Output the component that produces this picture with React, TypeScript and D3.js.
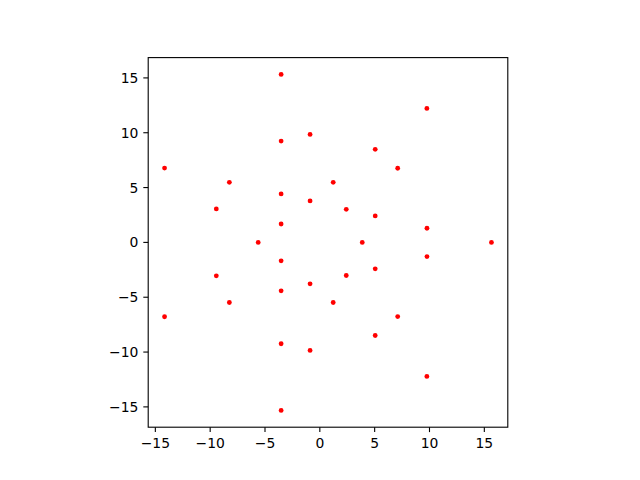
import React from "react";
import * as d3 from "d3";

const xs = [-3.53, -3.53, -3.53, -3.53, -0.89, -0.89, -14.16, -8.25, -9.44, -5.62, 9.76, 5.05, 7.1, 1.22, 2.41, 5.05, 9.77, 3.87, 15.65,
  -3.53, -3.53, -3.53, -3.53, -0.89, -0.89, -14.16, -8.25, -9.44, 9.76, 5.05, 7.1, 1.22, 2.41, 5.05, 9.77];
const ys = [15.32, 9.24, 4.42, 1.68, 9.85, 3.78, 6.78, 5.48, 3.05, 0, 12.22, 8.49, 6.76, 5.48, 3.02, 2.41, 1.29, 0, 0,
  -15.32, -9.24, -4.42, -1.68, -9.85, -3.78, -6.78, -5.48, -3.05, -12.22, -8.49, -6.76, -5.48, -3.02, -2.41, -1.29];
const xTicks = [-15, -10, -5, 0, 5, 10, 15];
const yTicks = [-15, -10, -5, 0, 5, 10, 15];

export default function App() {
  const W = 640, H = 480;
  const xMin = d3.min(xs)!, xMax = d3.max(xs)!;
  const yMin = d3.min(ys)!, yMax = d3.max(ys)!;
  const xPad = (xMax - xMin) * 0.05, yPad = (yMax - yMin) * 0.05;
  const xDom: [number, number] = [xMin - xPad, xMax + xPad];
  const yDom: [number, number] = [yMin - yPad, yMax + yPad];
  const top = 57.6, bottom = 427.2;
  const ph = bottom - top;
  const k = ph / (yDom[1] - yDom[0]);
  const pw = k * (xDom[1] - xDom[0]);
  const cx = 80 + 496 / 2;
  const left = cx - pw / 2, right = cx + pw / 2;
  const x = d3.scaleLinear().domain(xDom).range([left, right]);
  const y = d3.scaleLinear().domain(yDom).range([bottom, top]);
  const fmt = (v: number) => (v < 0 ? "\u2212" + Math.abs(v) : String(v));
  const fs = 13.9;
  return (
    <svg width={W} height={H} style={{ position: "absolute", left: 0, top: 0 }} fontFamily="DejaVu Sans">
      <rect x={0} y={0} width={W} height={H} fill="white" />
      {xs.map((v, i) => (
        <circle key={i} cx={x(v)} cy={y(ys[i])} r={2.4} fill="red" />
      ))}
      <rect x={left} y={top} width={pw} height={ph} fill="none" stroke="black" strokeWidth={1.1} />
      {xTicks.map((t) => (
        <g key={"x" + t}>
          <line x1={x(t)} x2={x(t)} y1={bottom} y2={bottom + 4.9} stroke="black" strokeWidth={1.1} />
          <text x={x(t)} y={bottom + 4.9 + 4.9 + fs * 0.76} fontSize={fs} textAnchor="middle">{fmt(t)}</text>
        </g>
      ))}
      {yTicks.map((t) => (
        <g key={"y" + t}>
          <line x1={left - 4.9} x2={left} y1={y(t)} y2={y(t)} stroke="black" strokeWidth={1.1} />
          <text x={left - 4.9 - 4.9} y={y(t)} dy="0.36em" fontSize={fs} textAnchor="end">{fmt(t)}</text>
        </g>
      ))}
    </svg>
  );
}
